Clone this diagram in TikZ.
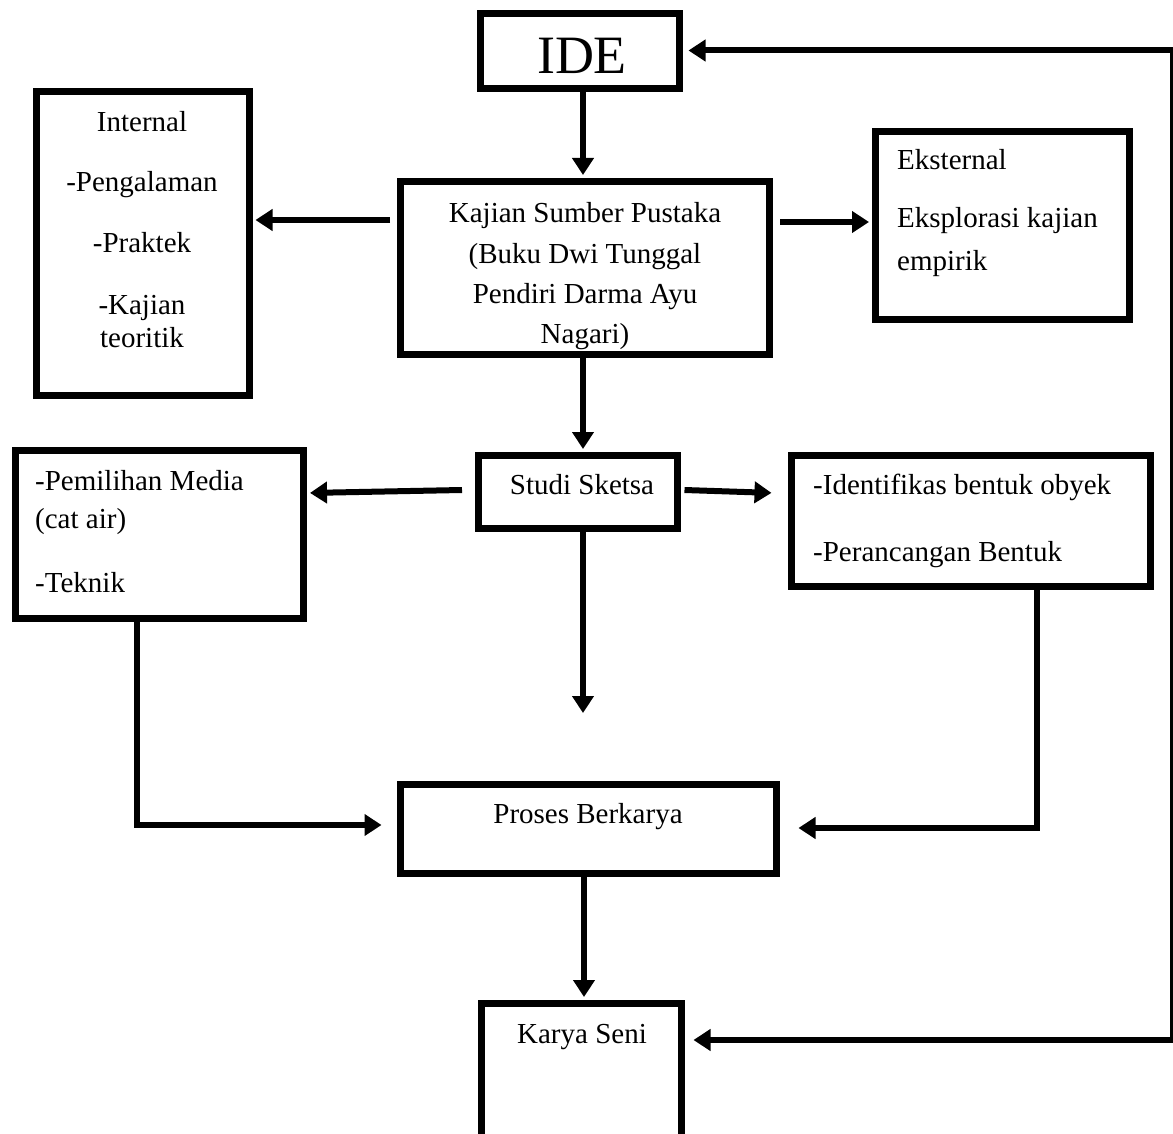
\documentclass[tikz,border=0pt]{standalone}
\usepackage{fontspec}
\setmainfont{Liberation Serif}
\usetikzlibrary{arrows.meta}
\begin{document}
\begin{tikzpicture}[x=1pt,y=-1pt,
  box/.style={draw, line width=7pt, inner sep=0pt, fill=white},
  conn/.style={line width=6pt},
  tipA/.tip={Triangle[length=17pt,width=21pt]},
  arr/.style={conn, -tipA, shorten >=3pt},
  txt/.style={inner sep=0pt, font=\fontsize{29}{40}\selectfont},
]
\useasboundingbox (0,0) rectangle (1173,1134);
\fill[white] (0,0) rectangle (1173,1134);

% boxes
\node[box, minimum width=199pt, minimum height=75pt]  (ide)   at (580,51) {};
\node[box, minimum width=213pt, minimum height=303pt] (int)   at (142.5,243.5) {};
\node[box, minimum width=369pt, minimum height=173pt] (kaj)   at (585,268) {};
\node[box, minimum width=254pt, minimum height=188pt] (eks)   at (1002.5,225.5) {};
\node[box, minimum width=288pt, minimum height=168pt] (pem)   at (159.5,534.5) {};
\node[box, minimum width=199pt, minimum height=73pt]  (stu)   at (578,492) {};
\node[box, minimum width=359pt, minimum height=131pt] (idn)   at (971,521) {};
\node[box, minimum width=376pt, minimum height=89pt]  (pro)   at (588.5,829) {};
\node[box, minimum width=200pt, minimum height=156pt] (kar)   at (581.5,1081.5) {};

% texts
\node[txt, anchor=base] (tide) at (582,74) {\fontsize{54}{60}\selectfont IDE};

\node[txt, anchor=base] (i1) at (142,132) {Internal};
\node[txt, anchor=base] (i2) at (142,192) {-Pengalaman};
\node[txt, anchor=base] (i3) at (142,253) {-Praktek};
\node[txt, anchor=base] (i4) at (142,314) {-Kajian};
\node[txt, anchor=base] (i5) at (142,347) {teoritik};

\node[txt, anchor=base] (k1) at (585,223) {Kajian Sumber Pustaka};
\node[txt, anchor=base] (k2) at (585,263) {(Buku Dwi Tunggal};
\node[txt, anchor=base] (k3) at (585,303) {Pendiri Darma Ayu};
\node[txt, anchor=base] (k4) at (585,343) {Nagari)};

\node[txt, anchor=base west] (e1) at (897,170) {Eksternal};
\node[txt, anchor=base west] (e2) at (897,228) {Eksplorasi kajian};
\node[txt, anchor=base west] (e3) at (897,270) {empirik};

\node[txt, anchor=base west] (p1) at (35,490) {-Pemilihan Media};
\node[txt, anchor=base west] (p2) at (35,528) {(cat air)};
\node[txt, anchor=base west] (p3) at (35,592) {-Teknik};

\node[txt, anchor=base] (s1) at (582,494) {Studi Sketsa};

\node[txt, anchor=base west] (d1) at (813,494) {-Identifikas bentuk obyek};
\node[txt, anchor=base west] (d2) at (813,561) {-Perancangan Bentuk};

\node[txt, anchor=base] (r1) at (588,823) {Proses Berkarya};
\node[txt, anchor=base] (a1) at (582,1043) {Karya Seni};

% connectors
\coordinate (stuend) at (583,713);
\draw[arr] ([xshift=3pt]ide.south) -- ([xshift=-2pt]kaj.north);
\draw[arr] ([xshift=-7pt]kaj.west |- 0,220) -- (int.east |- 0,220);
\draw[arr] ([xshift=7pt]kaj.east |- 0,222) -- (eks.west |- 0,222);
\draw[arr] (kaj.south -| 583,0) -- (stu.north -| 583,0);
\draw[arr] ([xshift=-13pt]stu.west |- 0,490) -- (pem.east |- 0,493);
\draw[arr] ([xshift=3.5pt]stu.east |- 0,490) -- ([xshift=-13.5pt]idn.west |- 0,493);
\draw[arr, shorten >=0pt] (stu.south -| 583,0) -- (stuend);
\draw[conn, -tipA, line join=miter] (pem.south -| 137,0) |- ([xshift=-15.5pt]pro.west |- 0,825);
\draw[conn, -tipA, line join=miter] (idn.south -| 1037,0) |- ([xshift=18.5pt]pro.east |- 0,828);
\draw[arr] (pro.south -| 584,0) -- (kar.north -| 584,0);
\draw[conn, tipA-tipA, line join=miter] ([xshift=8.5pt]kar.east |- 0,1040) -| (1173,50.5) -- ([xshift=5.5pt]ide.east |- 0,50.5);
\end{tikzpicture}
\end{document}
